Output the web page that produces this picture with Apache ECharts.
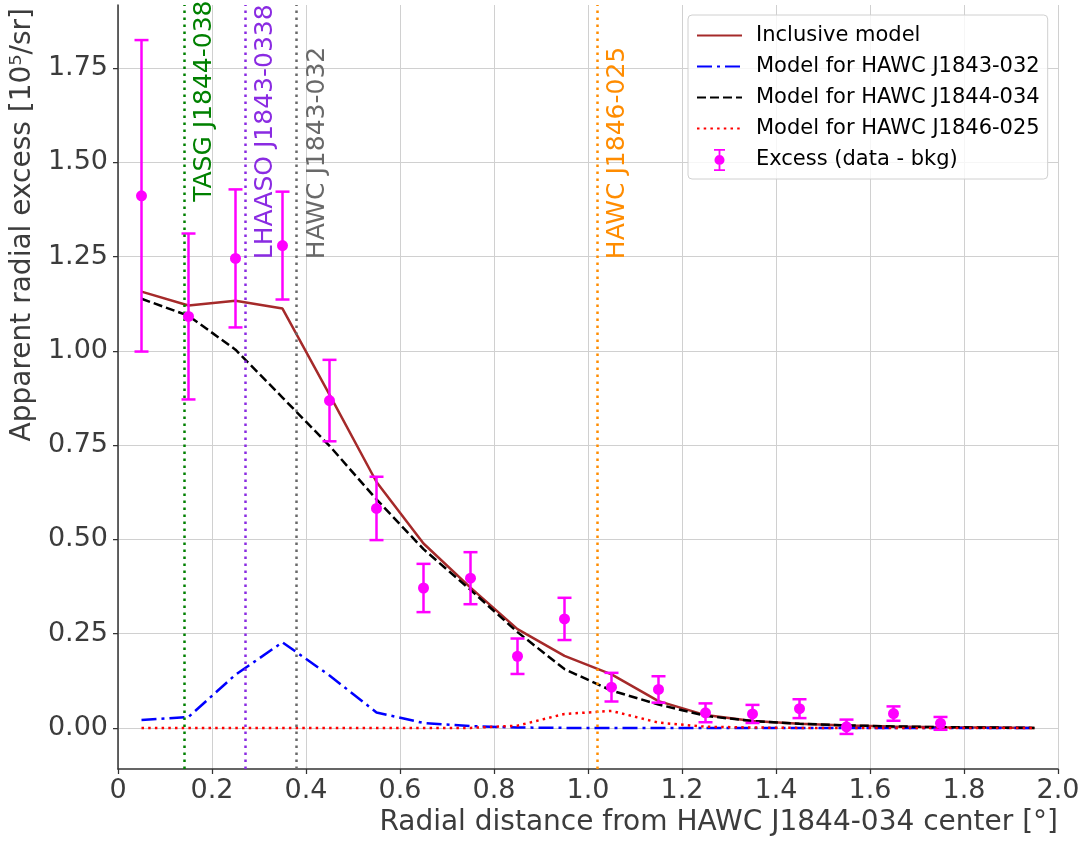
<!DOCTYPE html>
<html>
<head>
<meta charset="utf-8">
<script src="https://cdn.jsdelivr.net/npm/echarts@6/dist/echarts.min.js"></script>
<style>html,body{margin:0;padding:0;background:#fff}#c{width:1086px;height:842px}</style>
</head>
<body>
<div id="c"></div>
<script>
// ---- data ----
const xModel = [0.05,0.15,0.25,0.35,0.45,0.55,0.65,0.75,0.85,0.95,1.05,1.15,1.25,1.35,1.45,1.55,1.65,1.75,1.85,1.95];
const inclusiveModel = [1.157,1.120,1.133,1.112,0.884,0.652,0.489,0.372,0.262,0.191,0.142,0.071,0.034,0.018,0.011,0.0066,0.004,0.002,0.001,0.0];
const modelJ1843_032 = [0.021,0.029,0.141,0.227,0.139,0.041,0.013,0.005,0.001,0.0,0.0,0.0,0.0,0.0,0.0,0.0,0.0,0.0,0.0,0.0];
const modelJ1844_034 = [1.138,1.093,1.003,0.876,0.748,0.606,0.474,0.366,0.254,0.156,0.099,0.062,0.032,0.018,0.011,0.0066,0.004,0.002,0.001,0.0];
const modelJ1846_025 = [0.0,0.0,0.0,0.0,0.0,0.0,0.0,0.0,0.006,0.037,0.045,0.014,0.003,0.001,0.0,0.0,0.0,0.0,0.0,0.0];

const xData = [0.05,0.15,0.25,0.35,0.45,0.55,0.65,0.75,0.85,0.95,1.05,1.15,1.25,1.35,1.45,1.55,1.65,1.75];
const excess = [1.411,1.091,1.245,1.279,0.868,0.582,0.371,0.397,0.190,0.289,0.108,0.102,0.040,0.037,0.051,0.003,0.038,0.012];
const excessErr = [0.413,0.220,0.183,0.143,0.108,0.084,0.064,0.069,0.047,0.056,0.038,0.035,0.025,0.024,0.025,0.019,0.019,0.017];

const srcNames = ['TASG J1844-038','LHAASO J1843-0338','HAWC J1843-032','HAWC J1846-025'];
const srcX = [0.14, 0.27, 0.38, 1.017];
const srcLabelY = [1.395, 1.243, 1.243, 1.243];
const srcColors = ['#008000','#8a2be2','#696969','#ff8c00'];

const xTickStep = 0.2;
const yTicks = [0, 0.25, 0.5, 0.75, 1.0, 1.25, 1.5, 1.75];
const yMin = -0.109, yMax = 1.917;

const legendNames = ['Inclusive model','Model for HAWC J1843-032','Model for HAWC J1844-034','Model for HAWC J1846-025','Excess (data - bkg)'];
// ---- end data ----

const FONT = 'DejaVu Sans';
const TICKC = '#3c3c3c';
const pair = (xs, ys) => xs.map((x, i) => [x, ys[i]]);
const errIcon = 'path://M1,0H13V2H1Z M1,22H13V24H1Z M6,0H8V24H6Z M1.5,12A5.5,5.5 0 1,1 12.5,12A5.5,5.5 0 1,1 1.5,12Z';

const chart = echarts.init(document.getElementById('c'), null, {renderer: 'canvas'});
const option = {
  animation: false,
  backgroundColor: '#ffffff',
  grid: {left: 118, right: 28, top: 5, bottom: 73, containLabel: false},
  xAxis: {
    type: 'value', min: 0, max: 2.0, interval: xTickStep,
    axisLine: {show: true, onZero: false, lineStyle: {color: '#333', width: 1.5}},
    axisTick: {show: true, length: 5, lineStyle: {color: '#333', width: 1.25}},
    axisLabel: {fontFamily: FONT, fontSize: 27, color: TICKC, margin: 8,
      formatter: v => (Math.abs(v) < 1e-9 ? '0' : v.toFixed(1))},
    splitLine: {show: true, lineStyle: {color: '#d0d0d0', width: 1}}
  },
  yAxis: {
    type: 'value', min: yMin, max: yMax,
    axisLine: {show: true, onZero: false, lineStyle: {color: '#333', width: 1.5}},
    axisTick: {show: true, length: 5, customValues: yTicks, lineStyle: {color: '#333', width: 1.25}},
    axisLabel: {fontFamily: FONT, fontSize: 27, color: TICKC, margin: 10, customValues: yTicks,
      formatter: v => v.toFixed(2)},
    splitLine: {show: true, customValues: yTicks, lineStyle: {color: '#d0d0d0', width: 1}}
  },
  legend: {
    orient: 'vertical', left: 688, top: 15,
    padding: [10, 8, 8, 8],
    itemWidth: 45, itemHeight: 22, itemGap: 10,
    backgroundColor: 'rgba(255,255,255,0.8)', borderColor: '#d0d0d0', borderWidth: 1, borderRadius: 4,
    textStyle: {fontFamily: FONT, fontSize: 21, color: '#000', padding: [0, 0, 0, 9]},
    data: legendNames.map((n, i) => i === 4
      ? {name: n, icon: errIcon}
      : {name: n, itemStyle: {opacity: 0}})
  },
  graphic: [
    {type: 'text', x: 1058, y: 823, style: {text: 'Radial distance from HAWC J1844-034 center [°]',
      font: '28px "DejaVu Sans"', fill: TICKC, align: 'right', verticalAlign: 'middle'}},
    {type: 'text', x: 23, y: 8, rotation: Math.PI / 2, style: {text: 'Apparent radial excess [10⁵/sr]',
      font: '28px "DejaVu Sans"', fill: TICKC, align: 'right', verticalAlign: 'middle'}}
  ],
  series: [
    {
      type: 'scatter', name: 'sources', z: 1, symbolSize: 0.1, silent: true,
      itemStyle: {color: 'rgba(0,0,0,0)', opacity: 1},
      data: srcNames.map((n, i) => ({
        value: [srcX[i], srcLabelY[i]],
        label: {show: true, formatter: n, color: srcColors[i], opacity: 1}
      })),
      label: {show: true, position: 'right', distance: 21, rotate: 90, align: 'left', verticalAlign: 'middle',
        fontFamily: FONT, fontSize: 25, opacity: 1},
      markLine: {
        silent: true, symbol: ['none', 'none'], label: {show: false},
        lineStyle: {type: [2.5, 4.5], width: 2.5, opacity: 1},
        data: srcX.map((x, i) => ({xAxis: x, lineStyle: {color: srcColors[i], type: [2.5, 4.5], width: 2.5, opacity: 1}}))
      }
    },
    {type: 'line', name: legendNames[0], z: 3, data: pair(xModel, inclusiveModel), symbol: 'none', showSymbol: false,
      itemStyle: {color: '#a52a2a'}, lineStyle: {color: '#a52a2a', width: 2.5}},
    {type: 'line', name: legendNames[1], z: 3, data: pair(xModel, modelJ1843_032), symbol: 'none', showSymbol: false,
      itemStyle: {color: '#0000ff'}, lineStyle: {color: '#0000ff', width: 2.5, type: [15, 5, 3, 5]}},
    {type: 'line', name: legendNames[2], z: 3, data: pair(xModel, modelJ1844_034), symbol: 'none', showSymbol: false,
      itemStyle: {color: '#000000'}, lineStyle: {color: '#000000', width: 2.5, type: [9, 4]}},
    {type: 'line', name: legendNames[3], z: 3, data: pair(xModel, modelJ1846_025), symbol: 'none', showSymbol: false,
      itemStyle: {color: '#ff0000'}, lineStyle: {color: '#ff0000', width: 2.5, type: [2.5, 4.2]}},
    {type: 'scatter', name: legendNames[4], z: 5, symbol: 'circle', symbolSize: 11, symbolKeepAspect: true,
      itemStyle: {color: '#ff00ff', opacity: 1}, data: pair(xData, excess)},
    {type: 'custom', name: legendNames[4], z: 4, silent: true,
      itemStyle: {color: '#ff00ff'},
      data: xData.map((x, i) => [x, excess[i] - excessErr[i], excess[i] + excessErr[i]]),
      renderItem: function (params, api) {
        const x = api.value(0);
        const lo = api.coord([x, api.value(1)]);
        const hi = api.coord([x, api.value(2)]);
        const hw = 7;
        const st = {stroke: '#ff00ff', lineWidth: 2.5};
        return {type: 'group', children: [
          {type: 'line', shape: {x1: lo[0], y1: lo[1], x2: hi[0], y2: hi[1]}, style: st},
          {type: 'line', shape: {x1: hi[0] - hw, y1: hi[1], x2: hi[0] + hw, y2: hi[1]}, style: st},
          {type: 'line', shape: {x1: lo[0] - hw, y1: lo[1], x2: lo[0] + hw, y2: lo[1]}, style: st}
        ]};
      }
    }
  ]
};
chart.setOption(option);
</script>
</body>
</html>
